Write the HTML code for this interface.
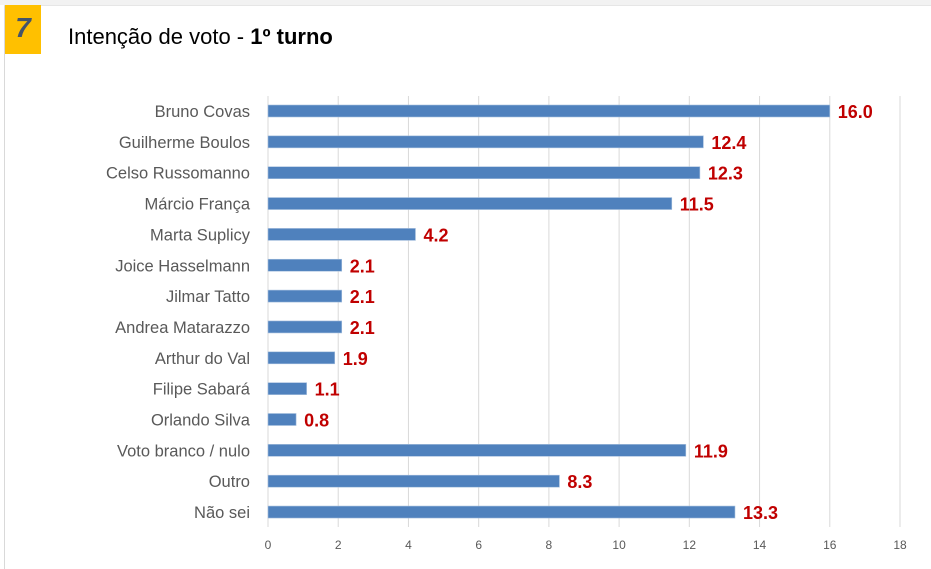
<!DOCTYPE html>
<html><head><meta charset="utf-8"><style>
body{margin:0;width:931px;height:568px;overflow:hidden;background:#fff;font-family:"Liberation Sans",sans-serif}
#card{position:absolute;left:4px;top:5px;width:927px;height:563px;border-left:1px solid #d9d9d9;border-top:1px solid #e6e6e6;background:#fff}
#topband{position:absolute;left:0;top:0;width:931px;height:5px;background:#f2f2f2}
#badge{position:absolute;left:5px;top:5px;width:36px;height:49px;background:#ffc000;color:#44546a;font-weight:bold;font-style:italic;font-size:28px;text-align:center;line-height:46px}
#title{position:absolute;left:68px;top:24px;font-size:22px;color:#000}
svg{position:absolute;left:0;top:0}
</style></head><body>
<div id="topband"></div>
<div id="card"></div>
<div id="badge">7</div>
<div id="title">Intenção de voto - <b>1º turno</b></div>
<svg id="chart" width="931" height="568"></svg>
<script>
const categories=["Bruno Covas","Guilherme Boulos","Celso Russomanno","Márcio França","Marta Suplicy","Joice Hasselmann","Jilmar Tatto","Andrea Matarazzo","Arthur do Val","Filipe Sabará","Orlando Silva","Voto branco / nulo","Outro","Não sei"];
const values=[16.0,12.4,12.3,11.5,4.2,2.1,2.1,2.1,1.9,1.1,0.8,11.9,8.3,13.3];
const ticks=[0,2,4,6,8,10,12,14,16,18];
const NS="http://www.w3.org/2000/svg";
const svg=document.getElementById('chart');
const x0=268,x1=900,xmax=18,yTop=96,yBot=527,row0=111,rowStep=30.85;
const xs=v=>x0+(x1-x0)*v/xmax;
const ys=i=>row0+i*rowStep;
function mk(t,a){const e=document.createElementNS(NS,t);for(const k in a)e.setAttribute(k,a[k]);svg.appendChild(e);return e;}
ticks.forEach((t,i)=>{
 const g=mk('line',{x1:xs(t),x2:xs(t),y1:yTop,y2:yBot,stroke:'#d9d9d9','stroke-width':1});
 
 
 const l=mk('text',{x:xs(t),y:549,'text-anchor':'middle','font-size':12,fill:'#595959'});
 l.textContent=t;
 
 
});
categories.forEach((c,i)=>{
 const y=ys(i);
 const lab=mk('text',{x:250,y:y+6,'text-anchor':'end','font-size':16.5,fill:'#595959'});
 lab.textContent=c;
 
 
 const b=mk('rect',{x:x0,y:y-6,width:xs(values[i])-x0,height:12,fill:'#4f81bd',stroke:'#a7c0de','stroke-width':0.6});
 
 
 const v=mk('text',{x:xs(values[i])+8,y:y+7,'font-size':18,'font-weight':'bold',fill:'#c00000'});
 v.textContent=values[i].toFixed(1);
 
 
});
</script>
</body></html>
